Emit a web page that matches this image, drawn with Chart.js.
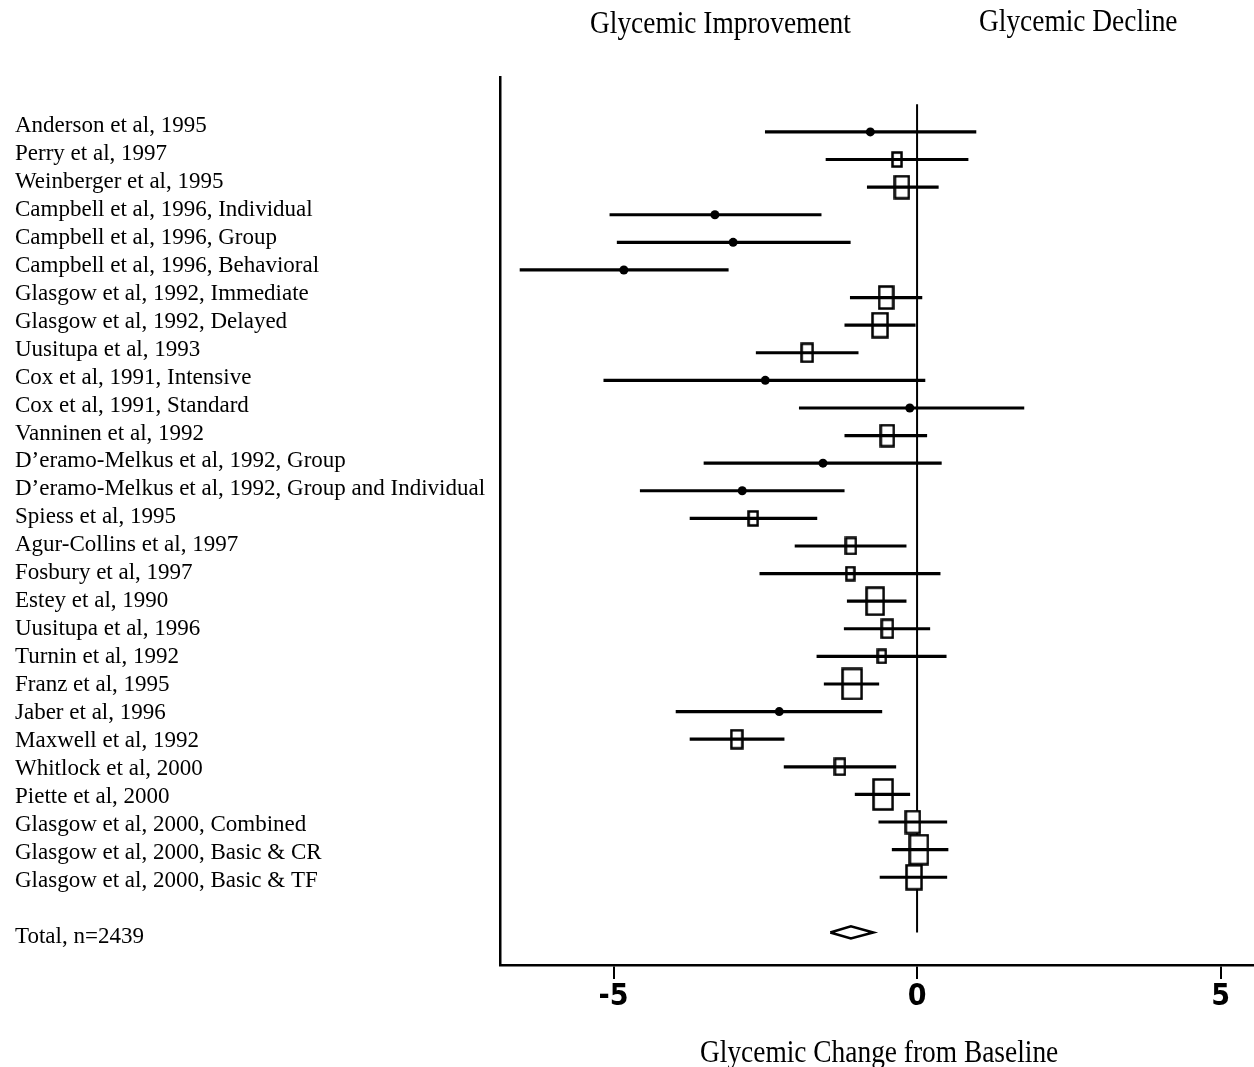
<!DOCTYPE html>
<html>
<head>
<meta charset="utf-8">
<script src="https://cdn.jsdelivr.net/npm/chart.js@4.4.1/dist/chart.umd.min.js"></script>
<style>
    html, body { margin: 0; padding: 0; background: #fff; }
    #wrap { position: relative; width: 1254px; height: 1067px; }
    #chart { position: absolute; left: 0; top: 0; }
    .ttl {
        position: absolute;
        font-family: "Liberation Serif", "Times New Roman", serif;
        font-size: 32px;
        line-height: 32px;
        color: #000;
        white-space: nowrap;
        transform: scaleX(0.856);
        transform-origin: left top;
    }
</style>
</head>
<body>
<div id="wrap">
    <canvas id="chart" width="1254" height="1067"></canvas>
    <div class="ttl" style="left:590px; top:6px;">Glycemic Improvement</div>
    <div class="ttl" style="left:979px; top:4px;">Glycemic Decline</div>
    <div class="ttl" style="left:700px; top:1035px;">Glycemic Change from Baseline</div>
</div>
<script>
// study rows, top to bottom
const studies = [
    "Anderson et al, 1995",
    "Perry et al, 1997",
    "Weinberger et al, 1995",
    "Campbell et al, 1996, Individual",
    "Campbell et al, 1996, Group",
    "Campbell et al, 1996, Behavioral",
    "Glasgow et al, 1992, Immediate",
    "Glasgow et al, 1992, Delayed",
    "Uusitupa et al, 1993",
    "Cox et al, 1991, Intensive",
    "Cox et al, 1991, Standard",
    "Vanninen et al, 1992",
    "D\u2019eramo-Melkus et al, 1992, Group",
    "D\u2019eramo-Melkus et al, 1992, Group and Individual",
    "Spiess et al, 1995",
    "Agur-Collins et al, 1997",
    "Fosbury et al, 1997",
    "Estey et al, 1990",
    "Uusitupa et al, 1996",
    "Turnin et al, 1992",
    "Franz et al, 1995",
    "Jaber et al, 1996",
    "Maxwell et al, 1992",
    "Whitlock et al, 2000",
    "Piette et al, 2000",
    "Glasgow et al, 2000, Combined",
    "Glasgow et al, 2000, Basic & CR",
    "Glasgow et al, 2000, Basic & TF",
];
const estimates = [-0.77, -0.33, -0.25, -3.33, -3.03, -4.83, -0.51, -0.61, -1.81, -2.5, -0.12, -0.49, -1.55, -2.88,
    -2.7, -1.09, -1.1, -0.69, -0.49, -0.58, -1.07, -2.27, -2.97, -1.27, -0.56, -0.07, 0.03, -0.05];
const lower = [-2.5, -1.5, -0.82, -5.06, -4.94, -6.54, -1.1, -1.19, -2.65, -5.16, -1.94, -1.19, -3.51, -4.56,
    -3.74, -2.01, -2.59, -1.15, -1.2, -1.65, -1.53, -3.97, -3.74, -2.19, -1.02, -0.63, -0.41, -0.61];
const upper = [0.97, 0.84, 0.35, -1.58, -1.1, -3.11, 0.08, -0.03, -0.97, 0.13, 1.76, 0.16, 0.4, -1.2,
    -1.65, -0.18, 0.38, -0.18, 0.21, 0.48, -0.63, -0.58, -2.19, -0.35, -0.12, 0.49, 0.51, 0.49];
// relative study weight (box area); null = plotted as a plain dot
const weights = [null, 0.8, 2.0, null, null, null, 2.0, 2.3, 1.2, null, null, 1.7, null, null,
    0.8, 1.0, 0.6, 2.9, 1.2, 0.6, 3.6, null, 1.2, 1.0, 3.6, 2.0, 3.2, 2.3];

const totalLabel = "Total, n=2439";
const totalEstimate = -1.09;
const totalLower = -1.43;
const totalUpper = -0.72;

const xTicks = [-5, 0, 5];

const totalRow = studies.length + 1;
const rows = studies.map((_, i) => i);

// hollow box marker, a bit taller than wide like the scanned original
const boxImage = (weight) => {
    const w = Math.round(10 * Math.sqrt(weight));
    const h = Math.round(w * 1.6);
    const c = document.createElement("canvas");
    c.width = w + 3;
    c.height = h + 3;
    const ctx = c.getContext("2d");
    ctx.fillStyle = "#fff";
    ctx.fillRect(1, 1, w + 1, h + 1);
    ctx.strokeStyle = "#000";
    ctx.lineWidth = 2.5;
    ctx.strokeRect(1.5, 1.5, w, h);
    return c;
};

const boxRows = rows.filter((i) => weights[i] !== null);
const dotRows = rows.filter((i) => weights[i] === null);

const labelFor = (v) => {
    if (v === totalRow) return totalLabel;
    return studies[v] !== undefined ? studies[v] : "";
};

const diamondHalf = 0.22;

new Chart(document.getElementById("chart"), {
    type: "scatter",
    data: {
        datasets: [
            {
                // confidence intervals as floating horizontal bars
                type: "bar",
                indexAxis: "y",
                xAxisID: "x",
                yAxisID: "y",
                data: rows.map((i) => ({ x: [lower[i], upper[i]], y: i })),
                backgroundColor: "#000",
                borderWidth: 0,
                barThickness: 2.5,
                order: 0,
            },
            {
                type: "scatter",
                xAxisID: "x",
                yAxisID: "y",
                data: dotRows.map((i) => ({ x: estimates[i], y: i })),
                pointStyle: "circle",
                pointRadius: 4.5,
                backgroundColor: "#000",
                borderColor: "#000",
                borderWidth: 0,
                order: -1,
            },
            {
                type: "scatter",
                xAxisID: "x",
                yAxisID: "y",
                data: boxRows.map((i) => ({ x: estimates[i], y: i })),
                pointStyle: boxRows.map((i) => boxImage(weights[i])),
                pointRadius: 5,
                order: 1,
            },
            {
                // line of no effect
                type: "scatter",
                xAxisID: "x",
                yAxisID: "y",
                data: [{ x: 0, y: -1 }, { x: 0, y: totalRow }],
                showLine: true,
                borderColor: "#000",
                borderWidth: 2,
                pointRadius: 0,
                order: 5,
            },
            {
                // pooled estimate diamond
                type: "scatter",
                xAxisID: "x",
                yAxisID: "y",
                data: [
                    { x: totalLower, y: totalRow },
                    { x: totalEstimate, y: totalRow - diamondHalf },
                    { x: totalUpper, y: totalRow },
                    { x: totalEstimate, y: totalRow + diamondHalf },
                    { x: totalLower, y: totalRow },
                ],
                showLine: true,
                fill: false,
                borderColor: "#000",
                borderWidth: 2.5,
                pointRadius: 0,
                order: 0,
            },
        ],
    },
    options: {
        responsive: false,
        animation: false,
        events: [],
        layout: { autoPadding: false, padding: { left: 15, top: 77, right: 0, bottom: 0 } },
        plugins: {
            legend: { display: false },
            tooltip: { enabled: false },
        },
        scales: {
            x: {
                type: "linear",
                position: "bottom",
                offset: false,
                min: -6.87,
                max: 5.55,
                border: { display: true, color: "#000", width: 2.5 },
                grid: {
                    drawOnChartArea: false,
                    drawTicks: true,
                    tickLength: 14,
                    color: "#000",
                    lineWidth: 2,
                },
                ticks: {
                    color: "#000",
                    padding: 0,
                    font: {
                        family: "'Liberation Sans Narrow', 'DejaVu Sans Condensed', 'Liberation Sans', sans-serif",
                        size: 30,
                        weight: "bold",
                    },
                },
                afterBuildTicks: (scale) => {
                    scale.ticks = xTicks.map((v) => ({ value: v }));
                },
                afterFit: (scale) => {
                    scale.height = 102;
                },
            },
            y: {
                type: "linear",
                display: false,
                offset: false,
                min: -1.99,
                max: 30.18,
                reverse: true,
            },
            yl: {
                type: "linear",
                position: "left",
                offset: false,
                min: -1.75,
                max: 30.01,
                reverse: true,
                border: { display: true, color: "#000", width: 2.5 },
                grid: { display: false, drawTicks: false },
                ticks: {
                    autoSkip: false,
                    crossAlign: "far",
                    padding: 0,
                    color: "#000",
                    font: { family: "'Liberation Serif', 'Times New Roman', serif", size: 23 },
                    callback: (v) => labelFor(v),
                },
                afterBuildTicks: (scale) => {
                    scale.ticks = rows.concat([totalRow]).map((v) => ({ value: v }));
                },
                afterFit: (scale) => {
                    scale.width = 485;
                },
            },
        },
    },
});
</script>
</body>
</html>
